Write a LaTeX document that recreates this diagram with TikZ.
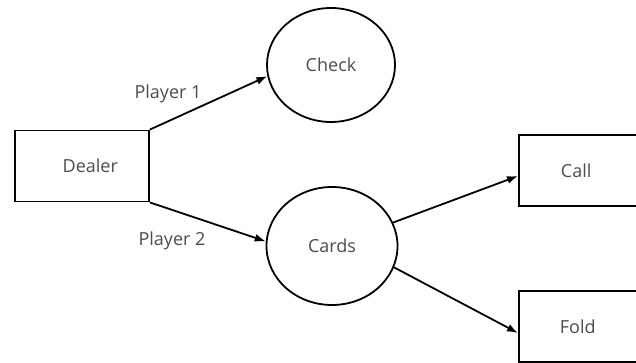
\documentclass[tikz,border=0pt]{standalone}
\usepackage{fontspec}
\setmainfont{Open Sans}
\usetikzlibrary{arrows.meta,shapes.geometric}
\begin{document}
\begin{tikzpicture}[x=1pt,y=-1pt]
        %colores
        \colorlet{txt}{black!70}
        \tikzset{
            caja/.style={draw,line width=1.8pt,minimum height=71pt,anchor=west,text=txt,font=\fontsize{18}{21}\selectfont},
            globo/.style={draw,ellipse,line width=1.8pt,inner sep=0pt,text=txt,font=\fontsize{18}{21}\selectfont},
            flecha/.style={line width=1.8pt,-{Latex[length=11pt,width=8pt]}},
            etiqueta/.style={text=txt,font=\fontsize{18}{21}\selectfont}
        }
        \path[use as bounding box] (0,0) rectangle (636,363);
        \clip (0,0) rectangle (636,363);

        %nodos
        \node[caja,inner xsep=31pt,text width=72pt,align=right] (dealer) at (14,166) {Dealer};
        \node[globo,minimum width=128pt,minimum height=114pt] (check) at (331,65) {Check};
        \node[globo,minimum width=131pt,minimum height=118pt] (cards) at (332,246) {Cards};
        \node[caja,inner xsep=42pt,text width=100pt,align=left] (call) at (518,170.5) {Call};
        \node[caja,inner xsep=41pt,text width=100pt,align=left] (fold) at (518,326.5) {Fold};

        %etiquetas
        \node[etiqueta] (p1) at (168,94) {Player 1};
        \node[etiqueta] (p2) at (172,241) {Player 2};

        %flechas
        \draw[flecha] (dealer.north east) -- (check.190);
        \draw[flecha] (dealer.south east) -- (cards.176);
        \draw[flecha] (cards.21) -- ([yshift=-5.5pt]call.west);
        \draw[flecha] (cards.341) -- ([yshift=-6.5pt]fold.west);
    \end{tikzpicture}
\end{document}
